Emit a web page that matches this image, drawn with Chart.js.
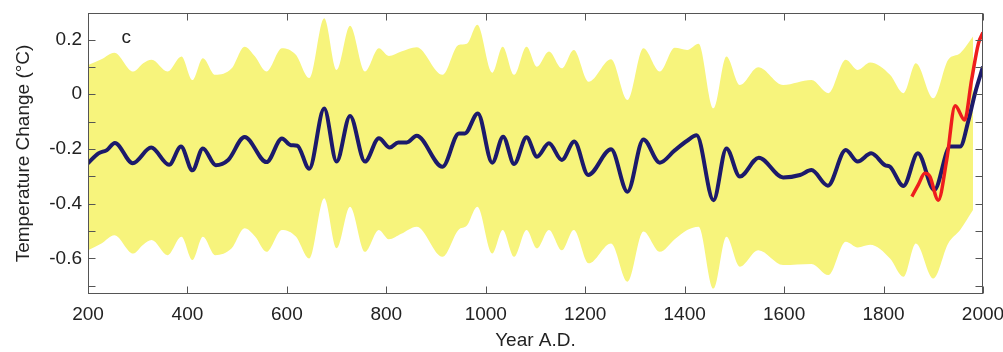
<!DOCTYPE html>
<html>
<head>
<meta charset="utf-8">
<script src="https://cdn.jsdelivr.net/npm/chart.js@4"></script>
<style>
  body { margin: 0; background: #fff; }
  #wrap { width: 1003px; height: 352px; }
</style>
</head>
<body>
<div id="wrap"><canvas id="tempChart" width="1003" height="352"></canvas></div>
<script>
// reconstruction (blue)
const blueYears = [200, 221, 238, 254, 290, 327, 363, 387, 410, 431, 457, 482, 515, 559, 590, 608, 621, 645, 675, 700, 727, 757, 785, 807, 824, 841, 861, 913, 946, 958, 984, 1013, 1035, 1057, 1082, 1103, 1127, 1153, 1178, 1206, 1252, 1285, 1317, 1350, 1380, 1405, 1424, 1458, 1484, 1511, 1549, 1598, 1632, 1655, 1688, 1724, 1748, 1775, 1803, 1813, 1840, 1869, 1902, 1934, 1954, 1971, 1984, 2000];
const blueTemps = [-0.252, -0.216, -0.204, -0.178, -0.252, -0.195, -0.258, -0.191, -0.278, -0.198, -0.259, -0.24, -0.156, -0.248, -0.162, -0.186, -0.188, -0.272, -0.052, -0.246, -0.079, -0.246, -0.161, -0.195, -0.176, -0.176, -0.152, -0.265, -0.143, -0.143, -0.07, -0.25, -0.155, -0.255, -0.157, -0.228, -0.179, -0.24, -0.173, -0.295, -0.201, -0.356, -0.165, -0.25, -0.205, -0.17, -0.15, -0.387, -0.198, -0.301, -0.232, -0.304, -0.295, -0.277, -0.334, -0.204, -0.246, -0.216, -0.259, -0.265, -0.335, -0.216, -0.35, -0.191, -0.191, -0.094, 0.004, 0.101];

// instrumental record (red)
const redYears = [1857, 1870, 1883, 1893, 1910, 1927, 1944, 1963, 1977, 1991, 2000];
const redTemps = [-0.374, -0.33, -0.289, -0.3, -0.387, -0.24, -0.042, -0.094, 0.052, 0.187, 0.226];

// uncertainty band (yellow)
const bandYears = [200, 227, 253, 291, 311, 328, 360, 388, 410, 431, 456, 489, 515, 536, 559, 590, 618, 645, 675, 700, 727, 757, 785, 805, 830, 861, 913, 945, 962, 983, 1013, 1034, 1057, 1082, 1103, 1127, 1153, 1177, 1207, 1252, 1285, 1317, 1350, 1380, 1405, 1428, 1458, 1484, 1511, 1548, 1598, 1655, 1689, 1724, 1748, 1773, 1813, 1840, 1865, 1900, 1930, 1954, 1980];
const bandUpper = [0.107, 0.128, 0.152, 0.083, 0.113, 0.126, 0.083, 0.138, 0.052, 0.132, 0.071, 0.095, 0.174, 0.138, 0.083, 0.168, 0.144, 0.059, 0.278, 0.089, 0.25, 0.083, 0.168, 0.14, 0.156, 0.172, 0.071, 0.18, 0.185, 0.254, 0.079, 0.174, 0.071, 0.174, 0.101, 0.156, 0.095, 0.162, 0.046, 0.128, -0.021, 0.168, 0.083, 0.17, 0.162, 0.185, -0.051, 0.138, 0.034, 0.099, 0.034, 0.052, 0.004, 0.126, 0.089, 0.116, 0.071, 0.004, 0.113, -0.015, 0.126, 0.15, 0.211];
const bandLower = [-0.57, -0.545, -0.515, -0.582, -0.55, -0.533, -0.588, -0.521, -0.606, -0.521, -0.588, -0.563, -0.49, -0.52, -0.576, -0.496, -0.52, -0.6, -0.38, -0.563, -0.411, -0.576, -0.496, -0.53, -0.51, -0.484, -0.594, -0.496, -0.48, -0.411, -0.582, -0.496, -0.594, -0.496, -0.563, -0.496, -0.57, -0.496, -0.618, -0.545, -0.685, -0.502, -0.576, -0.53, -0.496, -0.484, -0.71, -0.521, -0.63, -0.57, -0.624, -0.62, -0.661, -0.539, -0.56, -0.55, -0.6, -0.667, -0.545, -0.673, -0.545, -0.496, -0.423];

const xTicks = [200, 400, 600, 800, 1000, 1200, 1400, 1600, 1800, 2000];
const yTicks = [-0.7, -0.6, -0.5, -0.4, -0.3, -0.2, -0.1, 0, 0.1, 0.2];
const yLabels = ['', '-0.6', '', '-0.4', '', '-0.2', '', '0', '', '0.2'];

const FONT = "'Liberation Sans', Arial, Helvetica, sans-serif";

function pts(xs, ys) {
    return xs.map((x, i) => ({ x: x, y: ys[i] }));
}

// frame + inward tick marks + panel letter
const framePlugin = {
    id: 'frame',
    afterDraw(chart) {
        const { ctx, chartArea: a, scales } = chart;
        const L = Math.round(a.left) + 0.5, R = Math.round(a.right) - 0.5;
        const T = Math.round(a.top) + 0.5, B = Math.round(a.bottom) - 0.5;
        ctx.save();
        ctx.strokeStyle = '#555';
        ctx.lineWidth = 1;
        ctx.strokeRect(L, T, R - L, B - T);
        ctx.beginPath();
        xTicks.forEach(v => {
            const px = Math.round(scales.x.getPixelForValue(v)) + 0.5;
            ctx.moveTo(px, B); ctx.lineTo(px, B - 7);
            ctx.moveTo(px, T); ctx.lineTo(px, T + 7);
        });
        yTicks.forEach(v => {
            const py = Math.round(scales.y.getPixelForValue(v)) + 0.5;
            ctx.moveTo(L, py); ctx.lineTo(L + 7, py);
            ctx.moveTo(R, py); ctx.lineTo(R - 7, py);
        });
        ctx.stroke();
        ctx.fillStyle = '#222';
        ctx.font = '19px ' + FONT;
        ctx.textAlign = 'center';
        ctx.textBaseline = 'middle';
        ctx.fillText('c', scales.x.getPixelForValue(277), scales.y.getPixelForValue(0.205));
        ctx.restore();
    }
};

const ctx = document.getElementById('tempChart').getContext('2d');

new Chart(ctx, {
    type: 'line',
    data: {
        datasets: [
            {
                label: 'upper',
                data: pts(bandYears, bandUpper),
                borderColor: 'rgba(0,0,0,0)',
                borderWidth: 0,
                pointRadius: 0,
                cubicInterpolationMode: 'monotone',
                fill: false,
                order: 4
            },
            {
                label: 'lower',
                data: pts(bandYears, bandLower),
                borderColor: 'rgba(0,0,0,0)',
                borderWidth: 0,
                backgroundColor: '#f7f47c',
                pointRadius: 0,
                cubicInterpolationMode: 'monotone',
                fill: '-1',
                order: 3
            },
            {
                label: 'reconstruction',
                data: pts(blueYears, blueTemps),
                borderColor: '#1c1a6b',
                borderWidth: 4,
                pointRadius: 0,
                cubicInterpolationMode: 'monotone',
                fill: false,
                order: 2
            },
            {
                label: 'instrumental',
                data: pts(redYears, redTemps),
                borderColor: '#ee1d1d',
                borderWidth: 3.5,
                pointRadius: 0,
                cubicInterpolationMode: 'monotone',
                fill: false,
                order: 1
            }
        ]
    },
    options: {
        responsive: false,
        animation: false,
        layout: { padding: { top: 13, right: 20, left: 0, bottom: 0 } },
        plugins: {
            legend: { display: false },
            tooltip: { enabled: false }
        },
        scales: {
            x: {
                type: 'linear',
                min: 200,
                max: 2000,
                afterBuildTicks: s => { s.ticks = xTicks.map(v => ({ value: v })); },
                afterFit: s => { s.height = 58; s.paddingLeft = 0; s.paddingRight = 0; },
                grid: { display: false, drawTicks: false },
                border: { display: false },
                ticks: {
                    color: '#222',
                    font: { family: FONT, size: 19 },
                    padding: 9,
                    maxRotation: 0,
                    autoSkip: false,
                    callback: v => String(v)
                },
                title: {
                    display: true,
                    text: 'Year A.D.',
                    color: '#222',
                    font: { family: FONT, size: 19 },
                    padding: { top: 0, bottom: 0 }
                }
            },
            y: {
                min: -0.73,
                max: 0.297,
                afterBuildTicks: s => { s.ticks = yTicks.map(v => ({ value: v })); },
                afterFit: s => { s.width = 88; s.paddingTop = 0; s.paddingBottom = 0; },
                grid: { display: false, drawTicks: false },
                border: { display: false },
                ticks: {
                    color: '#222',
                    font: { family: FONT, size: 19 },
                    padding: 6,
                    autoSkip: false,
                    callback: (v, i) => yLabels[i]
                },
                title: {
                    display: true,
                    text: 'Temperature Change (°C)',
                    color: '#222',
                    font: { family: FONT, size: 19 },
                    padding: { top: 12, bottom: 0 }
                }
            }
        }
    },
    plugins: [framePlugin]
});
</script>
</body>
</html>
